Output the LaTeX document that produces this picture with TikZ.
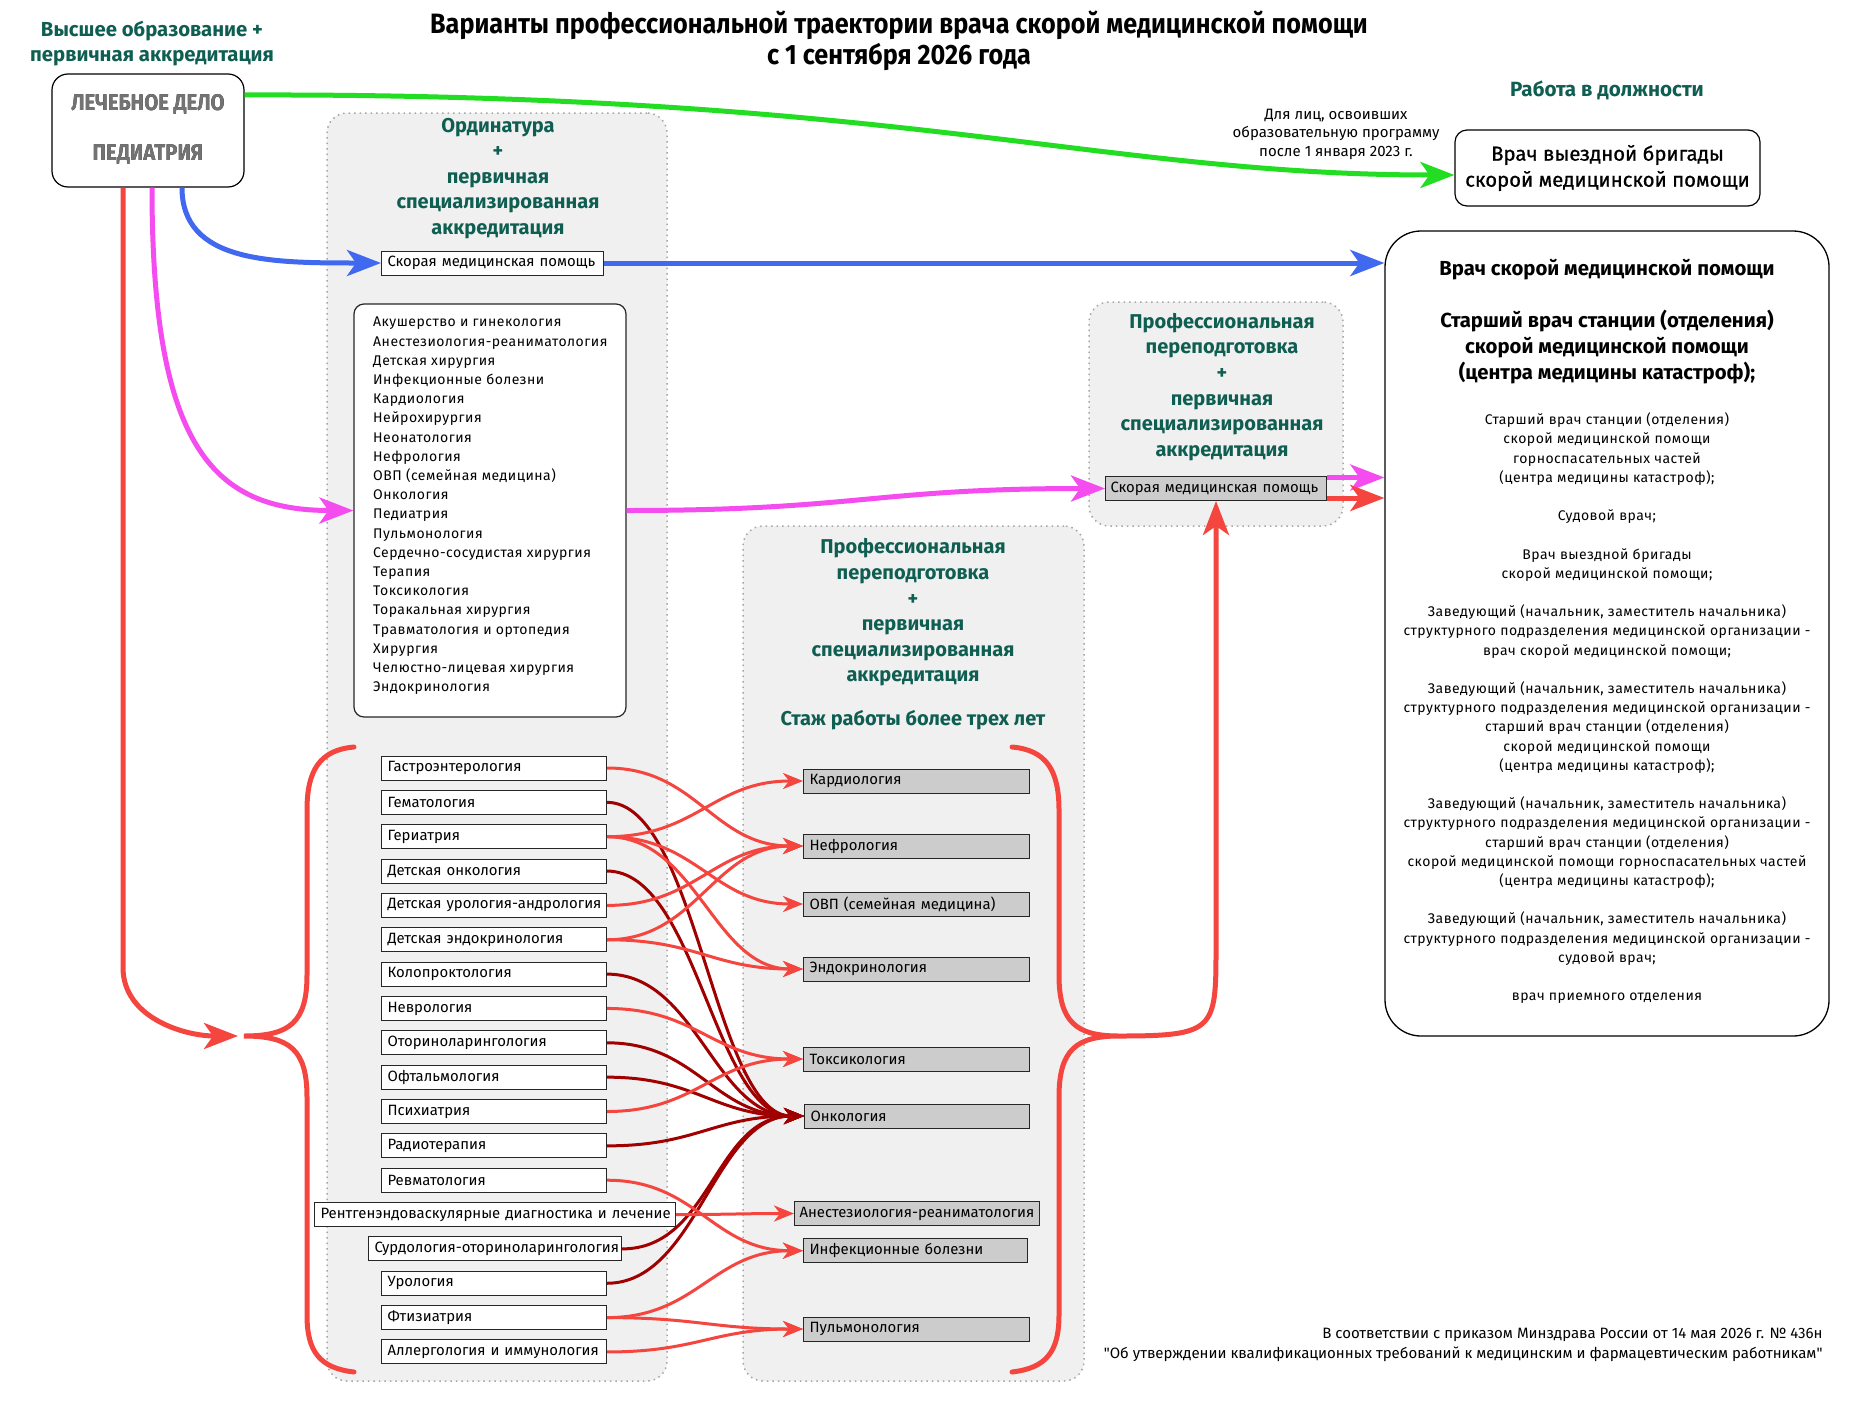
\documentclass[tikz,border=0pt]{standalone}
\usepackage{fontspec}
\usepackage[outline]{contour}
\setmainfont{Fira Sans}
\newfontfamily\cnd{Fira Sans}[FakeStretch=0.9]
\newfontfamily\trk{Fira Sans}[LetterSpace=3.5]
\newfontfamily\semib{Fira Sans}[FakeBold=0.8]
\newfontfamily\footf{Fira Sans}[Ligatures=TeXOff]
\usetikzlibrary{arrows.meta}
\definecolor{cgreen}{HTML}{22DD22}
\definecolor{cblue}{HTML}{4169F0}
\definecolor{cmag}{HTML}{F54CF0}
\definecolor{cred}{HTML}{F4463F}
\definecolor{cdred}{HTML}{A00000}
\definecolor{panelg}{HTML}{F0F0F0}
\definecolor{boxg}{HTML}{CCCCCC}
\definecolor{teal1}{HTML}{0F5E52}
\newcommand\blankl{\\\mbox{}\\}
\contourlength{1.1pt}
\begin{document}
\begin{tikzpicture}[x=1pt,y=-1pt,
  panel/.style={draw=black!35, line width=1.5pt, dash pattern=on 1.5pt off 4pt, fill=panelg, rounded corners=20pt, inner sep=0pt},
  head/.style={text=teal1, align=center, font=\fontsize{20}{25.6}\selectfont\bfseries},
  bigh/.style={align=center, font=\fontsize{20.3}{26}\selectfont\bfseries},
  bigt/.style={align=center, font=\trk\fontsize{14}{19.2}\selectfont},
  wbox/.style={draw=black!85, fill=white, line width=1pt, minimum height=24pt, inner xsep=6pt, inner ysep=0pt, anchor=west, align=left, font=\fontsize{14.9}{17}\selectfont},
  gbox/.style={wbox, fill=boxg},
  lechf/.style={font=\cnd\fontsize{22.6}{26}\selectfont\bfseries},
  bigarr/.style={line width=5pt, -{Stealth[length=34pt,width=26pt,inset=9pt]}},
  lr/.style={cred, line width=3pt, -{Stealth[length=20pt,width=16pt,inset=6pt]}},
  dr/.style={cdred, line width=3pt, -{Stealth[length=20pt,width=16pt,inset=6pt]}},
  brace/.style={cred, line width=5pt, line cap=round}
]
\useasboundingbox (0,0) rectangle (1867,1400);
\fill[white] (0,0) rectangle (1867,1400);

% panels
\node[panel, minimum width=340pt, minimum height=1268pt] (pord) at (497,747) {};
\node[panel, minimum width=254pt, minimum height=224pt] (pret1) at (1216,414) {};
\node[panel, minimum width=341pt, minimum height=855pt] (pret2) at (913.5,953.5) {};

% title and headings
\node[align=center, font=\cnd\fontsize{28}{31}\selectfont\bfseries] (title) at (899,40.5) {Варианты профессиональной траектории врача скорой медицинской помощи\\с 1 сентября 2026 года};
\node[head, font=\fontsize{20.3}{25}\selectfont\bfseries] (hedu) at (152,43.5) {Высшее образование +\\первичная аккредитация};
\node[head, font=\fontsize{20.6}{25}\selectfont\bfseries] (hwork) at (1607,90) {Работа в должности};
\node[head] (hord) at (498,178.5) {Ординатура\\+\\первичная\\специализированная\\аккредитация};
\node[head] (hret1) at (1222,387) {Профессиональная\\переподготовка\\+\\первичная\\специализированная\\аккредитация};
\node[head] (hret2) at (913,612.5) {Профессиональная\\переподготовка\\+\\первичная\\специализированная\\аккредитация};
\node[head] (staj) at (913,720) {Стаж работы более трех лет};

% source box
\node[draw, rounded corners=16pt, line width=1.2pt, minimum width=192pt, minimum height=113pt] (lech) at (148,130.5) {};
\node[lechf] (lech1) at (148,104) {\contour{black!90}{\textcolor{black!55}{ЛЕЧЕБНОЕ ДЕЛО}}};
\node[lechf] (lech2) at (148,155) {\contour{black!90}{\textcolor{black!55}{ПЕДИАТРИЯ}}};

% work boxes
\node[draw, rounded corners=12pt, line width=1.2pt, minimum width=305pt, minimum height=76pt, align=center, font=\semib\fontsize{20.3}{26}\selectfont] (wvb) at (1607.5,168) {Врач выездной бригады\\скорой медицинской помощи};
\node[align=center, font=\fontsize{15}{18.5}\selectfont] (note) at (1336,134) {Для лиц, освоивших\\образовательную программу\\после 1 января 2023 г.};
\node[draw, rounded corners=36pt, line width=1.3pt, minimum width=444pt, minimum height=805pt] (big) at (1607,633.5) {};
\node[bigh] (bh1) at (1607,270) {Врач скорой медицинской помощи};
\node[bigh] (bh2) at (1607,347.5) {Старший врач станции (отделения)\\скорой медицинской помощи\\(центра медицины катастроф);};
\node[bigt] (bt) at (1607,708.3) {Старший врач станции (отделения)\\скорой медицинской помощи\\горноспасательных частей\\(центра медицины катастроф);\blankl
Судовой врач;\blankl
Врач выездной бригады\\скорой медицинской помощи;\blankl
Заведующий (начальник, заместитель начальника)\\структурного подразделения медицинской организации -\\врач скорой медицинской помощи;\blankl
Заведующий (начальник, заместитель начальника)\\структурного подразделения медицинской организации -\\старший врач станции (отделения)\\скорой медицинской помощи\\(центра медицины катастроф);\blankl
Заведующий (начальник, заместитель начальника)\\структурного подразделения медицинской организации -\\старший врач станции (отделения)\\скорой медицинской помощи горноспасательных частей\\(центра медицины катастроф);\blankl
Заведующий (начальник, заместитель начальника)\\структурного подразделения медицинской организации -\\судовой врач;\blankl
врач приемного отделения};

% ordinatura boxes
\node[wbox, text width=210pt] (skor1) at (381,263) {\mbox{Скорая медицинская помощь}};
\node[draw=black!85, fill=white, line width=1.2pt, rounded corners=10pt, minimum width=272pt, minimum height=413pt] (olist) at (490,510.5) {};
\node[anchor=west, align=left, inner sep=0pt, font=\trk\fontsize{14}{19.2}\selectfont] (olt) at (373,506) {Акушерство и гинекология\\Анестезиология-реаниматология\\Детская хирургия\\Инфекционные болезни\\Кардиология\\Нейрохирургия\\Неонатология\\Нефрология\\ОВП (семейная медицина)\\Онкология\\Педиатрия\\Пульмонология\\Сердечно-сосудистая хирургия\\Терапия\\Токсикология\\Торакальная хирургия\\Травматология и ортопедия\\Хирургия\\Челюстно-лицевая хирургия\\Эндокринология};

% retraining box
\node[gbox, inner xsep=5pt, text width=211pt] (skor2) at (1105,488.5) {\mbox{Скорая медицинская помощь}};

% left list
\node[wbox, text width=213pt] (g1) at (381,768) {\mbox{Гастроэнтерология}};
\node[wbox, text width=213pt] (g2) at (381,802.35) {\mbox{Гематология}};
\node[wbox, text width=213pt] (g3) at (381,836.7) {\mbox{Гериатрия}};
\node[wbox, text width=213pt] (g4) at (381,871.05) {\mbox{Детская онкология}};
\node[wbox, text width=213pt] (g5) at (381,905.4) {\mbox{Детская урология-андрология}};
\node[wbox, text width=213pt] (g6) at (381,939.75) {\mbox{Детская эндокринология}};
\node[wbox, text width=213pt] (g7) at (381,974.1) {\mbox{Колопроктология}};
\node[wbox, text width=213pt] (g8) at (381,1008.45) {\mbox{Неврология}};
\node[wbox, text width=213pt] (g9) at (381,1042.8) {\mbox{Оториноларингология}};
\node[wbox, text width=213pt] (g10) at (381,1077.15) {\mbox{Офтальмология}};
\node[wbox, text width=213pt] (g11) at (381,1111.5) {\mbox{Психиатрия}};
\node[wbox, text width=213pt] (g12) at (381,1145.85) {\mbox{Радиотерапия}};
\node[wbox, text width=213pt] (g13) at (381,1180.2) {\mbox{Ревматология}};
\node[wbox, text width=349pt] (g14) at (314,1214.55) {\mbox{Рентгенэндоваскулярные диагностика и лечение}};
\node[wbox, text width=241pt] (g15) at (368,1248.9) {\mbox{Сурдология-оториноларингология}};
\node[wbox, text width=213pt] (g16) at (381,1283.25) {\mbox{Урология}};
\node[wbox, text width=213pt] (g17) at (381,1317.6) {\mbox{Фтизиатрия}};
\node[wbox, text width=213pt] (g18) at (381,1351.95) {\mbox{Аллергология и иммунология}};

% right list
\node[gbox, text width=214pt] (kard) at (803,781) {\mbox{Кардиология}};
\node[gbox, text width=214pt] (nef) at (803,846) {\mbox{Нефрология}};
\node[gbox, text width=214pt] (ovp) at (803,904) {\mbox{ОВП (семейная медицина)}};
\node[gbox, text width=214pt] (endo) at (803,969) {\mbox{Эндокринология}};
\node[gbox, text width=214pt] (tox) at (803,1059) {\mbox{Токсикология}};
\node[gbox, text width=213pt] (onk) at (804,1116) {\mbox{Онкология}};
\node[gbox, inner xsep=5pt, text width=235pt] (anest) at (794,1213.5) {\mbox{Анестезиология-реаниматология}};
\node[gbox, text width=212pt] (inf) at (803,1250.7) {\mbox{Инфекционные болезни}};
\node[gbox, text width=214pt] (pulm) at (803,1329) {\mbox{Пульмонология}};

% footer
\node[anchor=east, align=right, font=\footf\fontsize{15}{20}\selectfont] (foot) at (1826,1345) {В соответствии с приказом Минздрава России от 14 мая 2026 г. № 436н\\"Об утверждении квалификационных требований к медицинским и фармацевтическим работникам"};

% braces
\coordinate (lbtip) at (244,1036);
\coordinate (rbtip) at (1119,1036);
\draw[brace] (354,747) .. controls (320,750) and (307,770) .. (307,810) -- (307,975) .. controls (307,1022) and (290,1036) .. (lbtip) .. controls (290,1036) and (307,1050) .. (307,1097) -- (307,1315) .. controls (307,1352) and (320,1368) .. (354,1372);
\draw[brace] (1012,747) .. controls (1046,750) and (1059,770) .. (1059,810) -- (1059,975) .. controls (1059,1022) and (1076,1036) .. (rbtip) .. controls (1076,1036) and (1059,1050) .. (1059,1097) -- (1059,1315) .. controls (1059,1352) and (1046,1368) .. (1012,1372);

% main arrows
\draw[bigarr, cgreen] ([yshift=35.5pt]lech.east) .. controls (900,93) and (1100,175) .. ([yshift=-7pt]wvb.west);
\draw[bigarr, cblue] ([xshift=34pt]lech.south) .. controls +(0,75) and +(-110,0) .. (skor1.west);
\draw[bigarr, cblue] (skor1.east) -- (skor1.east -| big.west);
\draw[bigarr, cmag] ([xshift=4pt]lech.south) .. controls +(0,260) and +(-140,0) .. (olist.west);
\draw[bigarr, cmag] (olist.east) .. controls +(230,0) and +(-230,0) .. (skor2.west);
\draw[bigarr, cmag] ([yshift=11pt]skor2.east) -- ([yshift=11pt]skor2.east -| big.west);
\draw[bigarr, cred] ([yshift=-9.5pt]skor2.east) -- ([yshift=-9.5pt]skor2.east -| big.west);
\draw[bigarr, cred, shorten >=6pt] ([xshift=-25pt]lech.south) -- ++(0,780) .. controls +(0,50) and +(-60,0) .. (lbtip);
\draw[bigarr, cred] (rbtip) .. controls +(95,0) and +(0,80) .. (skor2.south |- 0,950) -- (skor2.south);

% connections: dark red
\foreach \s in {g2,g4,g7,g9,g10,g12,g15,g16}
  \draw[dr] (\s.east) .. controls +(90,0) and +(-90,0) .. (onk.west);
% connections: light red
\draw[lr] (g1.east) .. controls +(90,0) and +(-90,0) .. (nef.west);
\draw[lr] (g3.east) .. controls +(90,0) and +(-90,0) .. (kard.west);
\draw[lr] (g3.east) .. controls +(90,0) and +(-90,0) .. (ovp.west);
\draw[lr] (g3.east) .. controls +(90,0) and +(-90,0) .. (endo.west);
\draw[lr] (g5.east) .. controls +(90,0) and +(-90,0) .. (nef.west);
\draw[lr] (g6.east) .. controls +(90,0) and +(-90,0) .. (nef.west);
\draw[lr] (g6.east) .. controls +(90,0) and +(-90,0) .. (endo.west);
\draw[lr] (g8.east) .. controls +(90,0) and +(-90,0) .. (tox.west);
\draw[lr] (g11.east) .. controls +(90,0) and +(-90,0) .. (tox.west);
\draw[lr] (g13.east) .. controls +(90,0) and +(-90,0) .. (inf.west);
\draw[lr] (g14.east) .. controls +(50,0) and +(-50,0) .. (anest.west);
\draw[lr] (g17.east) .. controls +(90,0) and +(-90,0) .. (inf.west);
\draw[lr] (g17.east) .. controls +(90,0) and +(-90,0) .. (pulm.west);
\draw[lr] (g18.east) .. controls +(90,0) and +(-90,0) .. (pulm.west);
\end{tikzpicture}
\end{document}
